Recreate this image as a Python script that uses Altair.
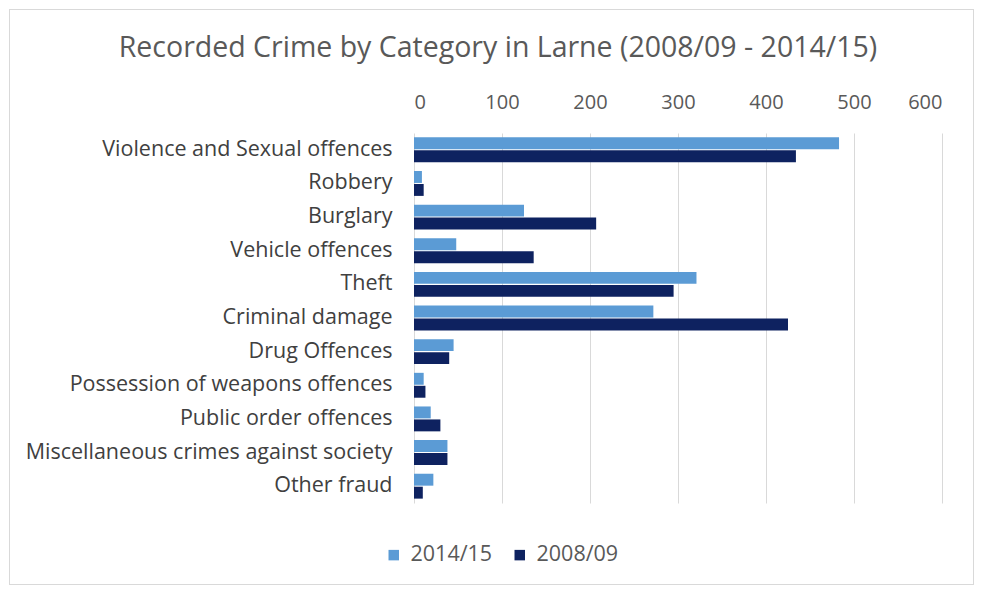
import altair as alt
import pandas as pd

title_text = "Recorded Crime by Category in Larne (2008/09 - 2014/15)"
categories = [
    "Violence and Sexual offences", "Robbery", "Burglary", "Vehicle offences",
    "Theft", "Criminal damage", "Drug Offences", "Possession of weapons offences",
    "Public order offences", "Miscellaneous crimes against society", "Other fraud",
]
series = ["2014/15", "2008/09"]
values_2014_15 = [483, 9, 125, 48, 321, 272, 45, 11, 19, 38, 22]
values_2008_09 = [434, 11, 207, 136, 295, 425, 40, 13, 30, 38, 10]
tick_values = [0, 100, 200, 300, 400, 500, 600]
colors = ["#5B9BD5", "#0E2260"]

rows = []
for c, a, b in zip(categories, values_2014_15, values_2008_09):
    rows.append({"category": c, "period": series[0], "value": a})
    rows.append({"category": c, "period": series[1], "value": b})
df = pd.DataFrame(rows)

FONT = "Open Sans"

bars = alt.Chart(df).mark_bar().encode(
    x=alt.X("value:Q",
            scale=alt.Scale(domain=[0, 600], nice=False),
            axis=alt.Axis(orient="top", values=tick_values, title=None, domain=False,
                          ticks=False, labelFontSize=20, labelColor="#595959",
                          labelFont=FONT, labelPadding=21, grid=True,
                          gridColor="#D9D9D9", gridWidth=1)),
    y=alt.Y("category:N", sort=categories,
            scale=alt.Scale(paddingInner=0.26, paddingOuter=0.13),
            axis=alt.Axis(title=None, domain=False, ticks=False, labelFontSize=21.5,
                          labelColor="#404040", labelFont=FONT, labelPadding=22,
                          labelLimit=500)),
    yOffset=alt.YOffset("period:N", sort=series, scale=alt.Scale(paddingInner=0.08)),
    color=alt.Color("period:N", sort=series,
                    scale=alt.Scale(domain=series, range=colors),
                    legend=alt.Legend(title=None, orient="none", direction="horizontal",
                                      legendX=-31, legendY=411, symbolType="square",
                                      symbolSize=110, symbolStrokeWidth=0,
                                      labelFontSize=21.5, labelColor="#595959",
                                      labelFont=FONT, columnPadding=16, labelOffset=6)),
)

frame = alt.Chart(df).mark_rect(fill=None, stroke="#D9D9D9", strokeWidth=1).encode(
    x=alt.value(-404.5), x2=alt.value(559.5), y=alt.value(-123.5), y2=alt.value(451.5)
)

title = alt.Chart(pd.DataFrame({"t": [title_text]})).mark_text(
    font=FONT, fontSize=28.5, color="#595959", align="center", baseline="middle"
).encode(text="t:N", x=alt.value(84), y=alt.value(-85))

chart = alt.layer(frame, bars, title).properties(
    width=528, height=370,
    autosize=alt.AutoSizeParams(type="none"),
    padding={"left": 406, "top": 125, "right": 32, "bottom": 83},
).configure_view(stroke=None)

chart.save("out.html", embed_options={"renderer": "svg", "actions": False})
